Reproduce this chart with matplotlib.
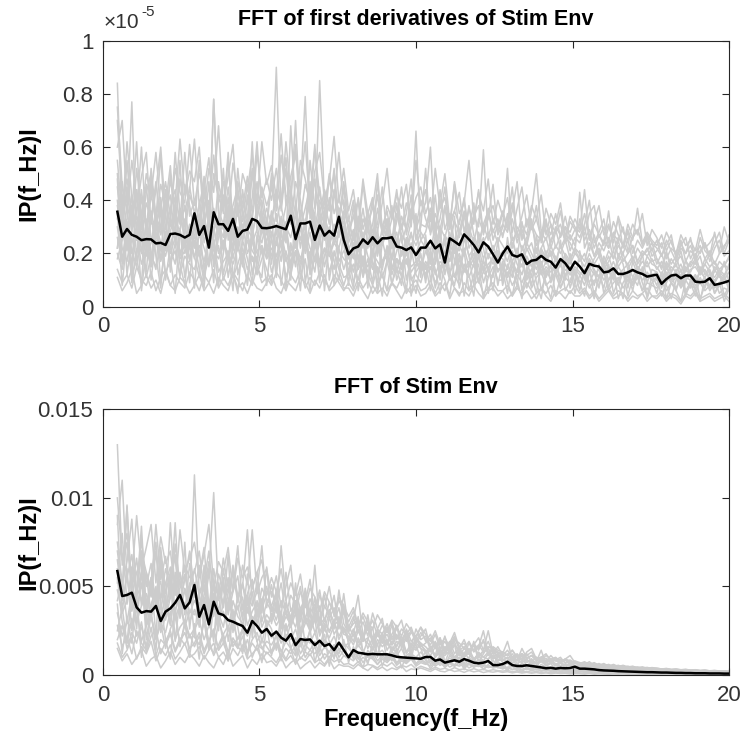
import numpy as np
import matplotlib
matplotlib.use('Agg')
import matplotlib.pyplot as plt
from matplotlib.ticker import FixedLocator

plt.rcParams['font.family'] = ['Liberation Sans', 'DejaVu Sans']

# ---------------- data ----------------
freq = np.linspace(0.46, 20.0, 128)   # frequency grid (Hz)

# mean of first-derivative spectra (units of 1e-5)
top_mean = [
    0.357, 0.263, 0.292, 0.27, 0.263, 0.25, 0.254, 0.253, 0.238, 0.24, 0.232, 0.273, 0.275, 0.27, 0.26, 0.27,
    0.351, 0.27, 0.303, 0.222, 0.355, 0.31, 0.31, 0.285, 0.33, 0.263, 0.285, 0.29, 0.33, 0.322,
    0.296, 0.295, 0.298, 0.303, 0.297, 0.291, 0.342, 0.254, 0.313, 0.313, 0.32, 0.251, 0.305, 0.267, 0.285, 0.267,
    0.338, 0.251, 0.197, 0.219, 0.226, 0.253, 0.236, 0.261, 0.238, 0.257, 0.257, 0.261, 0.226, 0.222, 0.213, 0.223, 0.194,
    0.222, 0.222, 0.248, 0.219, 0.234, 0.166, 0.257, 0.245, 0.232, 0.272, 0.253, 0.232, 0.204, 0.242, 0.226, 0.197,
    0.166, 0.2, 0.226, 0.194, 0.188, 0.197, 0.16, 0.173, 0.176, 0.191, 0.176, 0.169, 0.147, 0.179, 0.163, 0.138, 0.169,
    0.151, 0.126, 0.161, 0.154, 0.151, 0.129, 0.132, 0.144, 0.123, 0.123, 0.129, 0.138, 0.129, 0.123, 0.113, 0.117,
    0.12, 0.086, 0.104, 0.117, 0.12, 0.107, 0.117, 0.117, 0.094, 0.092, 0.094, 0.107, 0.082, 0.086, 0.091, 0.097,
]

# individual first-derivative spectra (units of 1e-7)
top_traces = [
    [84, 30, 45, 28, 52, 35, 22, 48, 30, 41, 25, 50, 33, 28, 46, 38,
     29, 55, 31, 40, 26, 47, 35, 58, 30, 42, 36, 27, 51, 33, 45, 38,
     44, 90, 36, 52, 31, 47, 40, 28, 55, 37, 45, 30, 49, 35, 41, 33,
     25, 38, 22, 33, 28, 41, 19, 30, 36, 24, 32, 45, 27, 35, 30, 40,
     33, 28, 42, 25, 37, 30, 46, 26, 34, 29, 39, 24, 31, 36, 28, 33,
     26, 35, 22, 30, 27, 24, 33, 20, 28, 25, 31, 22, 27, 30, 21, 26,
     24, 30, 21, 27, 19, 25, 22, 28, 18, 24, 20, 23, 17, 21, 19, 22,
     16, 20, 14, 18, 15, 21, 13, 17, 16, 19, 12, 15, 17, 14, 16, 18],
    [60, 70, 38, 31, 44, 26, 39, 33, 47, 29, 36, 42, 24, 37, 31, 45,
     35, 27, 43, 30, 78, 34, 29, 41, 25, 38, 32, 46, 28, 35, 40, 27,
     33, 41, 29, 38, 45, 26, 36, 30, 42, 33, 85, 39, 31, 44, 27, 36,
     30, 21, 34, 26, 29, 23, 37, 28, 31, 22, 35, 27, 24, 32, 66, 25,
     28, 35, 23, 30, 26, 33, 21, 29, 25, 38, 27, 22, 31, 25, 29, 24,
     30, 52, 25, 28, 21, 26, 31, 23, 27, 19, 25, 29, 22, 26, 24, 20,
     43, 22, 27, 19, 24, 21, 26, 18, 23, 20, 25, 17, 22, 19, 21, 24,
     18, 15, 21, 13, 17, 19, 14, 16, 20, 13, 18, 15, 17, 12, 16, 14],
    [45, 28, 33, 77, 25, 31, 22, 36, 27, 30, 21, 34, 26, 29, 38, 23,
     31, 26, 35, 24, 29, 33, 22, 30, 27, 36, 25, 31, 62, 28, 24, 33,
     27, 35, 23, 30, 26, 34, 29, 22, 31, 27, 36, 25, 30, 24, 28, 32,
     21, 27, 18, 24, 22, 29, 20, 25, 17, 23, 28, 19, 26, 22, 20, 25,
     22, 18, 26, 20, 24, 17, 23, 21, 27, 19, 22, 25, 18, 23, 20, 21,
     19, 23, 17, 21, 18, 24, 20, 16, 22, 18, 21, 17, 23, 19, 16, 20,
     18, 15, 20, 16, 19, 14, 17, 21, 15, 18, 16, 19, 14, 17, 15, 18,
     14, 17, 12, 15, 13, 16, 11, 14, 15, 12, 16, 13, 11, 14, 12, 15],
    [30, 18, 24, 20, 27, 16, 22, 19, 25, 17, 23, 20, 26, 18, 21, 24,
     19, 23, 17, 26, 21, 18, 24, 20, 16, 22, 19, 25, 17, 21, 23, 18,
     22, 19, 25, 17, 21, 24, 18, 23, 20, 26, 17, 22, 19, 24, 21, 18,
     16, 20, 14, 18, 15, 21, 13, 17, 19, 14, 18, 16, 20, 15, 17, 13,
     17, 14, 19, 15, 18, 13, 16, 20, 14, 17, 15, 19, 13, 16, 18, 14,
     15, 12, 17, 13, 16, 11, 14, 18, 12, 15, 13, 16, 11, 14, 12, 15,
     13, 11, 15, 12, 14, 10, 13, 11, 15, 12, 10, 14, 11, 13, 12, 10,
     11, 9, 13, 10, 12, 8, 11, 10, 12, 9, 11, 8, 10, 12, 9, 10],
    [14, 9, 12, 7, 15, 10, 8, 13, 6, 11, 14, 8, 12, 9, 7, 13,
     10, 6, 12, 9, 14, 7, 11, 8, 13, 10, 6, 12, 8, 15, 9, 11,
     8, 13, 10, 6, 12, 9, 14, 7, 11, 8, 13, 10, 7, 12, 9, 6,
     9, 6, 11, 7, 10, 5, 8, 12, 6, 9, 7, 11, 5, 8, 10, 6,
     7, 10, 5, 9, 6, 11, 7, 4, 9, 6, 8, 10, 5, 7, 9, 6,
     6, 8, 4, 7, 5, 9, 6, 3, 7, 5, 8, 4, 6, 7, 5, 8,
     5, 7, 4, 6, 3, 5, 7, 4, 6, 5, 3, 6, 4, 5, 7, 4,
     4, 6, 3, 5, 4, 2, 5, 4, 6, 3, 4, 5, 3, 4, 5, 3],
    [38, 26, 55, 30, 35, 60, 28, 42, 33, 57, 29, 37, 44, 31, 58, 34,
     40, 33, 49, 28, 78, 36, 31, 45, 27, 52, 34, 30, 41, 62, 35, 29,
     47, 32, 40, 56, 34, 29, 43, 79, 33, 48, 30, 41, 36, 52, 31, 45,
     27, 34, 40, 22, 36, 28, 31, 45, 26, 33, 39, 24, 30, 37, 29, 35,
     39, 60, 27, 33, 45, 29, 36, 31, 41, 26, 34, 38, 28, 33, 46, 27,
     31, 28, 36, 47, 25, 33, 29, 38, 24, 31, 27, 35, 26, 30, 28, 33,
     29, 44, 25, 31, 27, 23, 30, 26, 33, 22, 28, 25, 37, 24, 27, 21,
     25, 19, 23, 27, 18, 22, 20, 26, 17, 21, 24, 19, 28, 20, 23, 25],
    [22, 35, 28, 42, 19, 33, 46, 25, 30, 38, 24, 31, 27, 55, 22, 29,
     26, 39, 24, 33, 37, 28, 52, 25, 35, 21, 44, 29, 26, 38, 31, 24,
     36, 28, 33, 24, 68, 37, 25, 31, 39, 22, 34, 28, 41, 26, 37, 29,
     24, 29, 17, 26, 32, 20, 27, 23, 29, 18, 25, 31, 21, 27, 23, 28,
     25, 21, 30, 18, 27, 23, 20, 28, 35, 22, 26, 19, 24, 28, 21, 26,
     23, 20, 26, 18, 32, 21, 24, 17, 22, 26, 19, 23, 20, 25, 18, 22,
     20, 17, 24, 19, 22, 16, 21, 18, 25, 17, 20, 23, 16, 19, 22, 17,
     18, 14, 20, 16, 19, 13, 17, 15, 18, 14, 16, 20, 13, 17, 15, 19],
    [20, 14, 25, 12, 18, 22, 11, 19, 15, 23, 13, 17, 21, 12, 19, 16,
     14, 21, 12, 18, 25, 13, 17, 20, 11, 16, 22, 14, 19, 12, 18, 24,
     13, 19, 24, 11, 17, 21, 14, 26, 12, 18, 15, 22, 13, 20, 16, 11,
     12, 16, 10, 19, 13, 8, 15, 11, 17, 9, 14, 12, 18, 10, 13, 16,
     11, 15, 9, 13, 17, 10, 12, 8, 14, 11, 16, 9, 13, 11, 15, 10,
     10, 13, 8, 12, 9, 14, 7, 11, 13, 8, 10, 12, 7, 11, 9, 13,
     9, 12, 7, 10, 8, 13, 6, 9, 11, 7, 10, 8, 12, 6, 9, 8,
     7, 10, 6, 9, 7, 11, 5, 8, 7, 9, 6, 8, 10, 5, 7, 6],
    [70, 40, 48, 35, 62, 29, 43, 50, 32, 46, 38, 53, 30, 48, 36, 44,
     63, 38, 47, 33, 50, 41, 36, 55, 29, 47, 39, 33, 52, 37, 44, 31,
     50, 36, 57, 42, 38, 70, 33, 46, 40, 61, 35, 44, 38, 50, 32, 47,
     33, 25, 41, 29, 36, 24, 47, 30, 27, 38, 23, 34, 29, 42, 25, 31,
     30, 37, 26, 44, 29, 35, 24, 32, 40, 27, 34, 30, 59, 26, 33, 28,
     35, 29, 33, 24, 31, 27, 36, 50, 28, 32, 24, 30, 27, 34, 25, 29,
     26, 31, 40, 24, 28, 33, 22, 27, 25, 30, 21, 26, 29, 23, 27, 24,
     22, 19, 25, 21, 17, 24, 20, 23, 18, 26, 21, 19, 24, 28, 20, 25],
    [26, 17, 32, 21, 15, 28, 19, 24, 35, 18, 26, 22, 16, 29, 20, 25,
     18, 28, 22, 16, 30, 20, 25, 17, 29, 23, 15, 27, 21, 18, 32, 22,
     25, 17, 21, 30, 19, 24, 16, 28, 22, 18, 26, 15, 23, 29, 17, 21,
     19, 13, 22, 16, 11, 20, 17, 14, 23, 12, 18, 15, 21, 13, 16, 19,
     14, 20, 12, 17, 15, 22, 11, 18, 13, 16, 20, 12, 17, 14, 19, 13,
     16, 11, 15, 13, 19, 10, 14, 12, 17, 11, 15, 13, 9, 16, 12, 14,
     12, 14, 9, 13, 11, 15, 10, 12, 8, 13, 11, 9, 14, 10, 12, 11,
     10, 8, 12, 9, 11, 7, 10, 12, 8, 10, 9, 11, 7, 9, 11, 8],
    [55, 33, 62, 41, 36, 49, 58, 31, 44, 60, 35, 47, 39, 63, 42, 51,
     47, 60, 36, 52, 43, 68, 38, 49, 61, 34, 50, 44, 57, 39, 62, 46,
     53, 41, 65, 38, 49, 57, 44, 62, 36, 51, 58, 40, 47, 64, 39, 52,
     36, 44, 30, 48, 35, 41, 28, 39, 52, 33, 42, 37, 46, 30, 55, 38,
     44, 32, 52, 37, 41, 30, 47, 35, 39, 55, 33, 43, 36, 48, 31, 40,
     34, 41, 28, 37, 45, 30, 38, 33, 42, 27, 35, 31, 39, 26, 34, 30,
     28, 35, 26, 32, 38, 27, 31, 24, 34, 28, 25, 31, 27, 35, 23, 29,
     26, 22, 28, 24, 20, 27, 23, 25, 21, 29, 22, 24, 27, 21, 30, 24],
    [40, 22, 17, 29, 34, 21, 26, 15, 31, 24, 19, 28, 37, 20, 25, 18,
     27, 19, 33, 24, 17, 29, 21, 35, 18, 27, 31, 20, 25, 16, 29, 23,
     19, 31, 22, 27, 16, 25, 33, 20, 28, 17, 24, 32, 19, 26, 22, 30,
     18, 22, 15, 26, 19, 14, 23, 17, 20, 27, 13, 21, 16, 24, 18, 14,
     21, 16, 24, 13, 19, 17, 25, 14, 22, 15, 18, 23, 14, 20, 16, 19,
     18, 14, 21, 16, 12, 19, 15, 22, 13, 17, 20, 12, 16, 19, 14, 17,
     15, 12, 18, 14, 11, 16, 13, 17, 12, 14, 16, 11, 15, 13, 17, 12,
     13, 10, 15, 11, 13, 9, 14, 12, 10, 13, 11, 14, 9, 12, 10, 13],
    [11, 6, 9, 14, 5, 8, 12, 7, 10, 5, 13, 8, 6, 11, 9, 5,
     8, 12, 6, 9, 5, 11, 8, 6, 12, 7, 9, 5, 10, 7, 6, 9,
     12, 7, 5, 10, 8, 6, 11, 9, 5, 10, 7, 12, 6, 8, 11, 7,
     7, 4, 9, 6, 3, 8, 5, 7, 4, 9, 6, 3, 7, 5, 8, 4,
     5, 8, 4, 6, 9, 3, 7, 5, 6, 4, 8, 5, 3, 6, 7, 4,
     6, 3, 5, 8, 4, 6, 3, 5, 7, 4, 2, 6, 5, 3, 6, 4,
     4, 6, 3, 5, 2, 4, 6, 3, 4, 5, 2, 4, 3, 5, 2, 4,
     3, 5, 2, 4, 3, 1, 4, 3, 5, 2, 3, 4, 2, 3, 4, 2],
    [33, 47, 26, 38, 30, 44, 27, 52, 34, 29, 40, 31, 58, 35, 27, 42,
     36, 30, 44, 56, 33, 27, 42, 31, 38, 45, 28, 40, 33, 47, 30, 37,
     31, 44, 38, 28, 42, 61, 30, 37, 45, 29, 40, 34, 27, 43, 36, 40,
     29, 34, 26, 37, 24, 31, 42, 27, 33, 25, 38, 29, 35, 48, 26, 30,
     52, 27, 35, 29, 38, 25, 32, 28, 36, 30, 24, 33, 28, 37, 25, 31,
     27, 32, 45, 26, 29, 23, 31, 27, 25, 33, 22, 28, 31, 24, 27, 23,
     33, 25, 29, 22, 27, 24, 36, 21, 26, 23, 29, 20, 25, 22, 26, 19,
     21, 24, 18, 22, 20, 25, 17, 21, 19, 23, 18, 21, 16, 20, 22, 27],
    [50, 28, 21, 36, 25, 41, 30, 18, 33, 27, 44, 22, 30, 36, 24, 31,
     22, 34, 27, 47, 23, 31, 26, 38, 21, 30, 25, 42, 24, 29, 35, 21,
     28, 23, 34, 26, 39, 22, 30, 25, 47, 23, 29, 36, 24, 31, 26, 35,
     22, 18, 27, 15, 24, 21, 29, 16, 22, 19, 25, 14, 23, 28, 17, 21,
     24, 19, 16, 25, 20, 28, 17, 23, 19, 30, 16, 21, 26, 18, 23, 17,
     21, 17, 24, 19, 15, 22, 18, 14, 21, 16, 23, 18, 15, 20, 17, 22,
     17, 20, 14, 18, 21, 15, 19, 13, 17, 20, 14, 18, 15, 13, 19, 16,
     15, 12, 17, 13, 16, 11, 15, 13, 17, 12, 14, 10, 15, 13, 11, 16],
    [75, 45, 36, 55, 40, 33, 50, 42, 58, 37, 47, 34, 52, 43, 39, 61,
     38, 50, 43, 36, 57, 40, 47, 33, 54, 42, 37, 49, 35, 58, 41, 48,
     40, 52, 37, 62, 43, 35, 55, 48, 38, 59, 42, 36, 50, 41, 58, 37,
     32, 40, 28, 46, 31, 37, 50, 27, 38, 33, 44, 29, 39, 34, 41, 45,
     35, 41, 30, 38, 50, 32, 36, 43, 28, 37, 31, 44, 27, 34, 38, 30,
     36, 30, 39, 27, 34, 42, 29, 33, 26, 37, 31, 28, 36, 25, 32, 29,
     31, 27, 35, 38, 26, 30, 24, 32, 27, 23, 31, 26, 29, 24, 28, 25,
     23, 27, 21, 25, 19, 23, 26, 18, 22, 20, 24, 17, 22, 25, 19, 21],
    [35, 8, 27, 12, 31, 6, 22, 15, 33, 9, 25, 18, 5, 29, 11, 24,
     7, 30, 14, 26, 9, 34, 12, 21, 6, 28, 16, 10, 32, 13, 23, 8,
     27, 11, 31, 7, 24, 15, 36, 9, 20, 13, 29, 6, 25, 17, 10, 30,
     12, 24, 6, 19, 10, 27, 5, 16, 22, 8, 18, 11, 25, 4, 15, 20,
     9, 21, 14, 5, 18, 11, 24, 7, 16, 12, 4, 20, 9, 15, 6, 19,
     14, 5, 17, 10, 3, 15, 8, 19, 6, 12, 16, 4, 11, 18, 7, 13,
     6, 14, 9, 3, 12, 7, 16, 5, 10, 13, 4, 11, 8, 15, 3, 9,
     11, 4, 9, 13, 6, 2, 10, 7, 12, 3, 8, 11, 5, 9, 2, 7],
    [22, 40, 12, 26, 18, 9, 33, 20, 14, 38, 10, 23, 30, 16, 8, 27,
     19, 11, 36, 15, 24, 8, 20, 31, 13, 5, 25, 18, 9, 27, 20, 14,
     9, 26, 17, 32, 12, 21, 6, 28, 15, 34, 10, 19, 27, 8, 22, 14,
     20, 9, 15, 28, 7, 21, 13, 4, 18, 25, 10, 16, 6, 22, 12, 9,
     16, 6, 22, 10, 27, 13, 8, 19, 4, 15, 23, 9, 18, 5, 13, 21,
     8, 16, 11, 22, 6, 13, 18, 9, 3, 14, 10, 19, 7, 12, 15, 5,
     12, 8, 15, 4, 11, 17, 7, 13, 9, 3, 14, 8, 11, 6, 13, 10,
     5, 12, 8, 3, 10, 14, 6, 9, 4, 11, 7, 13, 5, 8, 12, 6],
    [48, 16, 30, 9, 21, 26, 13, 35, 19, 7, 28, 15, 24, 11, 33, 17,
     25, 14, 7, 29, 18, 23, 10, 16, 37, 12, 20, 8, 26, 15, 11, 31,
     16, 30, 8, 21, 14, 27, 11, 18, 6, 24, 16, 31, 10, 21, 14, 8,
     14, 7, 24, 11, 18, 9, 26, 12, 6, 19, 14, 8, 23, 11, 5, 17,
     12, 18, 7, 15, 10, 4, 17, 13, 21, 6, 12, 16, 3, 11, 20, 8,
     17, 9, 4, 14, 19, 7, 12, 5, 16, 9, 3, 13, 18, 6, 10, 14,
     9, 4, 13, 8, 16, 5, 10, 14, 3, 9, 12, 6, 15, 9, 4, 12,
     8, 13, 3, 9, 6, 12, 4, 10, 7, 2, 11, 6, 9, 13, 4, 8],
    [18, 25, 38, 14, 44, 20, 31, 10, 27, 21, 36, 13, 40, 19, 26, 9,
     31, 20, 9, 37, 15, 26, 32, 11, 22, 39, 17, 30, 12, 24, 36, 18,
     34, 14, 28, 19, 10, 38, 22, 33, 13, 27, 9, 35, 20, 14, 30, 24,
     8, 28, 19, 12, 31, 16, 9, 24, 33, 14, 21, 27, 10, 18, 35, 11,
     27, 10, 17, 30, 12, 21, 34, 10, 26, 19, 8, 28, 22, 13, 11, 25,
     10, 26, 13, 8, 23, 17, 11, 27, 15, 21, 9, 14, 25, 10, 20, 8,
     21, 10, 18, 13, 7, 19, 14, 10, 20, 16, 7, 17, 12, 20, 9, 14,
     13, 7, 16, 10, 14, 8, 18, 11, 6, 15, 10, 7, 14, 11, 17, 9],
]

# mean of envelope spectra
bottom_mean = [
    0.00587, 0.00446, 0.00452, 0.00465, 0.00382, 0.00352, 0.00361, 0.00358, 0.0039, 0.00305, 0.00358, 0.00376,
    0.00408, 0.00452, 0.00376, 0.0041, 0.00508, 0.00329, 0.00395, 0.00286, 0.00414, 0.00348, 0.00339, 0.0031,
    0.00301, 0.00288, 0.00277, 0.00239, 0.00305, 0.00277, 0.00239, 0.0026, 0.00222, 0.00245, 0.00211, 0.00194,
    0.00231, 0.00169, 0.00203, 0.00198, 0.00201,
    0.00169, 0.00194, 0.00164, 0.00175, 0.00141, 0.00183, 0.00141, 0.001, 0.00141, 0.00126, 0.00122, 0.00117,
    0.00119, 0.00117, 0.00117, 0.00117, 0.00111, 0.00103, 0.001, 0.00098, 0.00096, 0.00094, 0.00092, 0.00102,
    0.00102, 0.00081, 0.00088, 0.0007, 0.00077, 0.00083, 0.00075, 0.0009, 0.00081, 0.0007, 0.00066, 0.0007,
    0.00079, 0.00056, 0.00056, 0.00062, 0.00075, 0.00056, 0.00051,
    0.00051, 0.00055, 0.00051, 0.00047, 0.00043, 0.00038, 0.00041, 0.00036, 0.0004, 0.00038, 0.0004, 0.00047,
    0.00036, 0.00036, 0.00034, 0.00032, 0.00028, 0.00026, 0.00025, 0.00024, 0.00022, 0.00021, 0.0002, 0.00019,
    0.00018, 0.00017, 0.00016, 0.00016, 0.00015, 0.00014, 0.00014, 0.00013, 0.00012, 0.00012, 0.00011, 0.00011,
    0.0001, 0.0001, 0.0001, 0.00009, 0.00009, 0.00009, 0.00008, 0.00008,
]

# individual envelope spectra (units of 1e-4)
bottom_traces = [
    [130, 62, 75, 48, 66, 39, 58, 44, 70, 37, 52, 61, 35, 49, 57, 40,
     113, 46, 55, 38, 60, 42, 51, 34, 47, 56, 33, 44, 39, 52, 30, 41,
     36, 45, 29, 40, 33, 27, 38, 31, 25, 35, 28, 32, 24, 30, 22, 27,
     20, 26, 18, 23, 15, 21, 17, 24, 14, 19, 16, 22, 13, 18, 15, 17,
     14, 11, 16, 10, 13, 12, 9, 14, 11, 12, 8, 13, 10, 9, 11, 8,
     9, 7.5, 10, 6.5, 8, 7, 9, 6, 7.5, 5.5, 7, 6.5, 5, 6, 5.5, 4.8,
     5, 4.2, 5.5, 3.8, 4.5, 3.5, 4.2, 3.2, 3.8, 3, 3.5, 2.8, 3.2, 2.6, 3, 2.5,
     2.8, 2.2, 2.6, 2, 2.4, 1.8, 2.2, 1.7, 2, 1.6, 1.8, 1.5, 1.7, 1.4, 1.5, 1.3],
    [85, 110, 55, 68, 42, 77, 50, 63, 38, 72, 46, 58, 66, 41, 54, 70,
     48, 62, 39, 57, 103, 45, 53, 36, 60, 43, 50, 82, 40, 47, 73, 38,
     51, 35, 73, 42, 30, 48, 37, 44, 33, 62, 28, 39, 34, 45, 26, 36,
     24, 31, 45, 22, 28, 19, 26, 32, 17, 23, 28, 15, 21, 25, 18, 22,
     26, 15, 19, 13, 22, 12, 17, 14, 11, 18, 13, 16, 25, 12, 14, 10,
     12, 19, 9, 11, 8, 13, 15, 9, 10, 7.5, 11, 8, 9, 7, 8.5, 6.5,
     7, 5.5, 6.5, 5, 6, 4.5, 5.5, 4.2, 5, 3.8, 4.5, 3.5, 4, 3.2, 3.7, 3,
     3.2, 2.6, 3, 2.4, 2.8, 2.2, 2.5, 2, 2.3, 1.9, 2.1, 1.7, 1.9, 1.6, 1.8, 1.5],
    [60, 45, 96, 38, 50, 42, 57, 34, 46, 53, 31, 44, 86, 39, 48, 35,
     42, 37, 51, 33, 46, 29, 40, 49, 31, 38, 44, 28, 36, 41, 27, 34,
     30, 38, 26, 33, 29, 41, 24, 31, 27, 35, 22, 29, 25, 31, 20, 26,
     19, 23, 16, 21, 18, 14, 20, 16, 19, 13, 17, 20, 12, 16, 14, 18,
     12, 15, 10, 13, 11, 14, 9, 12, 10, 13, 9, 11, 8, 12, 10, 9,
     8, 10, 6.5, 8.5, 7, 9, 6, 7.5, 14, 6, 7, 5.5, 6.5, 5, 6, 4.5,
     4.5, 5.5, 4, 5, 3.8, 4.5, 3.5, 4, 3.2, 3.8, 3, 3.4, 2.8, 3.2, 2.6, 2.9,
     2.5, 2.8, 2.2, 2.5, 2, 2.3, 1.8, 2.1, 1.7, 1.9, 1.5, 1.8, 1.4, 1.6, 1.3, 1.4],
    [20, 28, 15, 24, 18, 30, 13, 22, 26, 12, 19, 25, 14, 21, 17, 23,
     16, 22, 12, 19, 25, 14, 18, 11, 21, 16, 13, 20, 10, 17, 15, 12,
     14, 18, 10, 15, 12, 17, 9, 13, 11, 16, 8, 12, 10, 14, 7, 11,
     9, 12, 7, 10, 8, 11, 6, 9, 7, 10, 5.5, 8, 6.5, 9, 5, 7,
     6, 8, 5, 7, 4.5, 6.5, 5, 7, 4, 6, 4.5, 5.5, 3.5, 5, 4, 4.5,
     3.5, 4.5, 3, 4, 2.8, 3.6, 2.5, 3.3, 2.4, 3, 2.2, 2.8, 2, 2.5, 1.8, 2.3,
     1.8, 2.2, 1.5, 2, 1.4, 1.8, 1.3, 1.6, 1.2, 1.5, 1.1, 1.4, 1, 1.3, 0.9, 1.1,
     0.9, 1.1, 0.8, 1, 0.7, 0.9, 0.6, 0.8, 0.6, 0.7, 0.5, 0.7, 0.5, 0.6, 0.4, 0.5],
    [15, 8, 12, 6, 10, 14, 5, 9, 11, 4, 8, 13, 6, 10, 7, 12,
     9, 5, 11, 7, 4, 10, 6, 13, 5, 8, 11, 4, 9, 6, 12, 7,
     8, 5, 10, 4, 7, 9, 3.5, 6, 8, 4, 7, 5, 9, 3.5, 6, 5,
     5, 3.5, 6, 4, 2.5, 5, 3, 4.5, 2.5, 4, 3, 5, 2, 3.5, 3, 4,
     3, 2, 3.5, 2.2, 1.8, 3, 2, 2.5, 1.5, 2.6, 1.8, 2.3, 1.4, 2, 1.6, 2.1,
     1.5, 1.9, 1.2, 1.7, 1.1, 1.5, 1, 1.4, 0.9, 1.2, 0.8, 1.1, 0.9, 1, 0.7, 0.9,
     0.8, 0.6, 0.9, 0.5, 0.7, 0.6, 0.4, 0.6, 0.5, 0.7, 0.4, 0.5, 0.3, 0.5, 0.4, 0.3,
     0.4, 0.3, 0.5, 0.3, 0.4, 0.2, 0.3, 0.4, 0.2, 0.3, 0.2, 0.3, 0.2, 0.2, 0.3, 0.2],
    [75, 52, 64, 88, 45, 70, 58, 49, 85, 54, 67, 43, 74, 50, 62, 55,
     58, 70, 47, 64, 52, 44, 66, 49, 58, 41, 62, 51, 82, 46, 55, 60,
     44, 56, 38, 50, 62, 35, 47, 41, 54, 32, 45, 38, 50, 33, 42, 37,
     30, 36, 27, 33, 25, 31, 22, 28, 24, 30, 20, 26, 23, 27, 19, 24,
     20, 17, 23, 15, 19, 14, 21, 16, 18, 13, 17, 15, 19, 12, 16, 14,
     13, 11, 14, 10, 12, 9, 11, 10, 8.5, 11, 9, 10, 7.5, 9, 8, 7,
     6.5, 7.5, 6, 7, 5.5, 6.5, 5, 6, 4.8, 5.5, 4.5, 5, 4, 4.6, 3.8, 4.2,
     3.8, 3.4, 3.6, 3.1, 3.3, 2.9, 3.1, 2.7, 2.9, 2.5, 2.7, 2.3, 2.5, 2.2, 2.3, 2],
    [48, 35, 42, 57, 30, 39, 46, 33, 41, 28, 37, 50, 32, 40, 27, 36,
     34, 41, 28, 37, 45, 31, 36, 25, 42, 33, 29, 38, 27, 33, 40, 26,
     35, 28, 33, 25, 31, 37, 22, 29, 34, 24, 30, 26, 21, 28, 31, 23,
     22, 17, 25, 19, 21, 15, 23, 18, 20, 14, 19, 17, 22, 13, 18, 15,
     13, 16, 11, 14, 12, 16, 10, 13, 11, 15, 9, 12, 10, 13, 9, 11,
     9, 7, 10, 8, 11, 7.5, 9, 6.5, 8, 7, 8.5, 6, 7, 5.5, 6.5, 5.5,
     5, 4, 5.5, 4.3, 4.8, 3.8, 4.5, 3.6, 4, 3.3, 3.8, 3.1, 3.5, 2.8, 3.2, 2.7,
     2.6, 2.3, 2.5, 2.1, 2.3, 1.9, 2.2, 1.8, 2, 1.7, 1.8, 1.5, 1.7, 1.4, 1.5, 1.3],
    [35, 22, 30, 26, 38, 19, 28, 33, 21, 29, 24, 36, 20, 27, 31, 22,
     26, 31, 20, 28, 23, 34, 18, 25, 29, 20, 26, 22, 30, 19, 24, 27,
     21, 25, 18, 23, 20, 26, 16, 21, 18, 24, 15, 20, 17, 22, 14, 18,
     15, 12, 17, 13, 11, 15, 12, 14, 10, 13, 11, 15, 9, 12, 10, 13,
     9, 11, 8, 10, 7.5, 9.5, 8, 10, 7, 9, 6.5, 8.5, 7, 8, 6, 7.5,
     5.5, 6.5, 5, 6, 4.5, 5.5, 4.2, 5.2, 4, 4.8, 3.8, 4.5, 3.5, 4.2, 3.2, 4,
     3, 3.4, 2.7, 3.1, 2.5, 2.9, 2.3, 2.7, 2.1, 2.5, 2, 2.3, 1.9, 2.2, 1.7, 2,
     1.6, 1.9, 1.5, 1.7, 1.4, 1.6, 1.3, 1.5, 1.2, 1.4, 1.1, 1.3, 1, 1.2, 1, 1.1],
    [52, 80, 40, 61, 47, 84, 36, 55, 43, 67, 39, 86, 45, 58, 34, 63,
     44, 56, 72, 39, 50, 35, 60, 42, 48, 73, 37, 46, 54, 33, 49, 43,
     39, 47, 33, 58, 36, 42, 30, 49, 35, 40, 28, 45, 32, 38, 27, 46,
     25, 29, 31, 21, 27, 18, 25, 20, 23, 17, 28, 19, 24, 16, 26, 20,
     22, 14, 18, 12, 16, 13, 19, 11, 15, 12, 17, 10, 14, 25, 12, 13,
     11, 9, 12, 8, 15, 9.5, 11, 8, 10, 7.5, 9, 8, 7, 8.5, 6.5, 7.5,
     6, 5, 6.5, 4.8, 5.5, 4.5, 5.2, 4.2, 4.8, 4, 4.4, 3.7, 4.1, 3.4, 3.8, 3.2,
     3.3, 2.8, 3.1, 2.6, 2.9, 2.4, 2.7, 2.2, 2.5, 2.1, 2.3, 1.9, 2.1, 1.8, 2, 1.7],
    [25, 38, 18, 32, 22, 27, 16, 34, 20, 29, 15, 26, 33, 18, 28, 21,
     22, 17, 30, 19, 26, 14, 23, 28, 16, 21, 25, 13, 20, 24, 15, 19,
     17, 22, 13, 19, 15, 21, 12, 17, 14, 19, 11, 16, 13, 17, 10, 14,
     11, 14, 9, 12, 10, 13, 8, 11, 9, 12, 7, 10, 8, 11, 6.5, 9,
     7, 9, 6, 8, 5.5, 7.5, 5, 7, 5.5, 6.5, 4.5, 6, 5, 5.5, 4.2, 5,
     4.5, 3.8, 4.8, 3.5, 4.2, 3.2, 3.9, 3, 3.6, 2.8, 3.3, 2.6, 3, 2.4, 2.8, 2.2,
     2.4, 2, 2.3, 1.8, 2.1, 1.7, 1.9, 1.5, 1.8, 1.4, 1.6, 1.3, 1.5, 1.2, 1.4, 1.1,
     1.2, 1, 1.1, 0.9, 1, 0.8, 0.9, 0.7, 0.8, 0.7, 0.8, 0.6, 0.7, 0.6, 0.6, 0.5],
    [100, 65, 80, 55, 90, 60, 72, 85, 52, 78, 63, 70, 48, 82, 58, 66,
     75, 55, 68, 85, 50, 64, 58, 72, 47, 66, 55, 61, 49, 58, 65, 45,
     55, 47, 60, 42, 52, 45, 57, 38, 49, 44, 36, 47, 41, 35, 44, 39,
     33, 38, 28, 35, 30, 26, 34, 29, 24, 31, 27, 22, 29, 25, 21, 27,
     23, 19, 25, 17, 21, 16, 20, 18, 15, 19, 14, 17, 13, 16, 15, 12,
     13, 11, 14, 10, 12, 9.5, 11, 8.5, 10, 9, 8, 9.5, 7.5, 8.5, 7, 8,
     7, 6, 7.5, 5.5, 6.5, 5.2, 6, 4.8, 5.5, 4.5, 5, 4.2, 4.6, 4, 4.3, 3.7,
     3.9, 3.4, 3.7, 3.2, 3.4, 3, 3.2, 2.8, 3, 2.6, 2.8, 2.4, 2.6, 2.3, 2.4, 2.1],
    [65, 42, 55, 36, 47, 58, 33, 51, 40, 62, 37, 45, 54, 32, 49, 43,
     52, 36, 45, 60, 33, 48, 41, 55, 30, 44, 51, 35, 47, 29, 42, 50,
     38, 31, 42, 35, 27, 39, 33, 46, 28, 37, 32, 25, 36, 30, 38, 24,
     28, 22, 26, 19, 30, 21, 25, 18, 27, 20, 23, 17, 26, 19, 22, 16,
     18, 21, 15, 19, 13, 17, 22, 14, 16, 12, 18, 14, 20, 11, 15, 13,
     10, 12, 8.5, 11, 9, 12, 7.5, 10, 8, 9.5, 7, 8.5, 10, 6.5, 8, 7,
     5.8, 6.5, 5, 6, 4.6, 5.5, 4.3, 5, 4, 4.7, 3.8, 4.3, 3.5, 4, 3.3, 3.7,
     3, 3.3, 2.8, 3, 2.5, 2.8, 2.3, 2.6, 2.2, 2.4, 2, 2.2, 1.9, 2.1, 1.8, 1.9],
    [28, 16, 22, 12, 25, 18, 14, 27, 11, 20, 17, 23, 13, 19, 24, 15,
     18, 24, 14, 20, 11, 17, 23, 13, 19, 15, 22, 12, 18, 14, 20, 16,
     12, 17, 14, 9, 15, 11, 18, 10, 14, 12, 16, 9, 13, 10, 15, 11,
     10, 8, 12, 7, 11, 9, 6, 10, 8, 11, 6.5, 9, 7, 10, 6, 8,
     6.5, 5, 7.5, 5.5, 7, 4.5, 6, 5, 6.5, 4, 5.5, 4.8, 6, 4.2, 5, 4.5,
     3.6, 4.2, 3.2, 3.8, 2.9, 3.5, 2.7, 3.2, 2.5, 3, 2.3, 2.8, 2.2, 2.6, 2, 2.4,
     1.9, 2.2, 1.7, 2, 1.5, 1.8, 1.4, 1.7, 1.3, 1.5, 1.2, 1.4, 1.1, 1.3, 1, 1.2,
     1, 1.1, 0.9, 1, 0.8, 0.9, 0.7, 0.8, 0.7, 0.8, 0.6, 0.7, 0.6, 0.6, 0.5, 0.6],
    [70, 48, 95, 44, 58, 66, 40, 53, 75, 42, 60, 50, 68, 38, 56, 47,
     60, 45, 53, 70, 41, 57, 48, 38, 62, 44, 52, 40, 49, 58, 37, 46,
     47, 39, 52, 34, 45, 40, 50, 31, 43, 37, 48, 30, 41, 35, 29, 38,
     27, 33, 24, 30, 22, 35, 26, 23, 29, 21, 26, 31, 19, 24, 22, 27,
     19, 23, 16, 21, 14, 18, 24, 15, 20, 13, 17, 21, 14, 19, 12, 16,
     11, 14, 10, 12, 9, 11, 13, 8.5, 10, 12, 8, 9.5, 7.5, 9, 11, 7,
     6.2, 7, 5.5, 6.5, 5, 6, 4.7, 5.5, 4.4, 5, 4.1, 4.7, 3.8, 4.3, 3.6, 4,
     3.5, 3.1, 3.4, 2.9, 3.2, 2.7, 3, 2.6, 2.8, 2.4, 2.6, 2.2, 2.4, 2.1, 2.2, 1.9],
    [18, 10, 14, 21, 9, 16, 12, 19, 8, 15, 11, 17, 9, 13, 18, 10,
     12, 16, 9, 14, 18, 10, 13, 8, 15, 11, 17, 9, 12, 15, 8, 13,
     10, 7, 12, 8, 11, 6.5, 10, 8, 12, 7, 9, 6, 10, 7.5, 9, 6,
     6.5, 5, 7.5, 4.5, 6, 5.5, 4, 6.5, 5, 7, 4, 5.5, 4.5, 6, 3.5, 5,
     4, 3, 4.5, 3.2, 3.8, 2.8, 4.2, 3, 3.5, 2.6, 3.6, 2.7, 3.2, 2.4, 3, 2.5,
     2.2, 2.6, 1.9, 2.3, 1.7, 2.1, 1.6, 2, 1.5, 1.8, 1.4, 1.7, 1.3, 1.6, 1.2, 1.4,
     1.2, 1, 1.3, 0.9, 1.1, 0.8, 1, 0.8, 0.9, 0.7, 0.9, 0.6, 0.8, 0.6, 0.7, 0.5,
     0.6, 0.7, 0.5, 0.6, 0.4, 0.5, 0.5, 0.4, 0.5, 0.3, 0.4, 0.4, 0.3, 0.4, 0.3, 0.3],
    [42, 55, 30, 46, 36, 52, 28, 40, 48, 33, 44, 29, 50, 35, 41, 30,
     37, 28, 44, 32, 51, 35, 27, 42, 33, 39, 26, 45, 31, 36, 43, 28,
     32, 40, 27, 36, 29, 52, 25, 33, 28, 44, 24, 31, 37, 26, 48, 29,
     24, 19, 28, 21, 34, 18, 24, 20, 27, 17, 22, 19, 25, 15, 21, 18,
     16, 13, 18, 11, 15, 19, 12, 16, 10, 14, 17, 11, 13, 15, 10, 12,
     8.5, 10, 7, 9, 11, 7.5, 8.5, 6.5, 9.5, 7, 8, 6, 7.5, 9, 6, 7,
     5, 5.8, 4.4, 5.2, 4, 4.8, 3.7, 4.4, 3.5, 4.1, 3.2, 3.8, 3, 3.5, 2.8, 3.2,
     2.7, 2.4, 2.6, 2.2, 2.4, 2, 2.2, 1.9, 2.1, 1.8, 1.9, 1.6, 1.8, 1.5, 1.6, 1.4],
    [40, 12, 33, 18, 45, 10, 28, 36, 14, 42, 20, 9, 38, 16, 30, 11,
     29, 9, 35, 17, 12, 31, 22, 8, 37, 15, 26, 10, 33, 19, 7, 28,
     11, 24, 8, 29, 15, 6, 21, 13, 26, 7, 18, 23, 5, 17, 12, 20,
     7, 16, 10, 4, 14, 9, 18, 5, 12, 8, 15, 4, 11, 13, 6, 10,
     9, 3.5, 7, 11, 4, 8, 5.5, 10, 3, 7.5, 5, 9, 3, 6, 8.5, 4,
     5, 2.5, 6, 3.5, 1.8, 4.5, 3, 5.5, 2, 4, 2.8, 1.6, 4.2, 2.4, 3.6, 1.8,
     2.8, 1.2, 2.5, 1.8, 0.9, 2.2, 1.4, 2.6, 1, 1.9, 1.5, 0.8, 2, 1.2, 1.6, 0.9,
     1.4, 0.7, 1.2, 0.9, 0.5, 1.1, 0.8, 1.3, 0.5, 0.9, 0.7, 0.4, 1, 0.6, 0.8, 0.5],
    [55, 30, 18, 47, 26, 60, 20, 38, 50, 24, 33, 57, 19, 44, 28, 52,
     21, 46, 30, 14, 40, 25, 55, 19, 34, 27, 12, 43, 24, 37, 18, 31,
     26, 14, 35, 20, 29, 11, 38, 17, 25, 32, 13, 28, 19, 9, 33, 16,
     18, 9, 21, 14, 6, 19, 11, 23, 8, 16, 12, 20, 7, 14, 17, 9,
     13, 6, 10, 15, 5, 11, 8, 14, 4.5, 10, 7, 12, 5, 9, 13, 6,
     4, 8, 5.5, 2.5, 7, 4, 9, 3, 6, 4.5, 2.2, 6.5, 3.5, 5, 2.5, 4.5,
     3.5, 1.8, 3, 2.2, 1.2, 3.2, 2, 1.4, 2.8, 1.6, 2.4, 1.1, 2.6, 1.5, 2, 1.2,
     1.6, 1.1, 1.9, 0.8, 1.4, 1, 1.7, 0.7, 1.3, 0.9, 1.5, 0.6, 1.2, 0.8, 1.1, 0.7],
    [90, 35, 60, 25, 48, 70, 30, 55, 22, 64, 40, 28, 58, 33, 75, 26,
     50, 27, 62, 34, 19, 52, 38, 68, 24, 45, 31, 57, 21, 42, 35, 61,
     29, 48, 20, 41, 27, 35, 17, 44, 24, 31, 39, 15, 33, 23, 28, 40,
     16, 24, 33, 12, 20, 27, 10, 22, 17, 29, 13, 19, 25, 9, 21, 15,
     8, 16, 11, 21, 7, 14, 17, 6, 13, 9, 19, 7, 12, 16, 5, 11,
     7, 3, 9, 5, 12, 4, 7.5, 3.5, 10, 5, 6.5, 3, 8, 4.5, 7, 3,
     4, 2.2, 4.8, 3, 1.6, 4.2, 2.6, 3.6, 1.5, 3.2, 2.2, 3.8, 1.4, 2.8, 2, 3,
     1.8, 2.3, 1.2, 2, 1.5, 0.9, 1.9, 1.2, 1.6, 0.8, 1.4, 1.7, 0.9, 1.3, 1.1, 0.7],
]

x_ticks = [0, 5, 10, 15, 20]
top_yticks = [0, 0.2e-5, 0.4e-5, 0.6e-5, 0.8e-5, 1e-5]
top_yticklabels = ['0', '0.2', '0.4', '0.6', '0.8', '1']
bottom_yticks = [0, 0.005, 0.01, 0.015]
bottom_yticklabels = ['0', '0.005', '0.01', '0.015']

# ---------------- plotting ----------------
AX_COL = '#262626'
TICK_TXT = '#333333'
GRAY = '#cccccc'

fig = plt.figure(figsize=(7.43, 7.44), dpi=100)
ax1 = fig.add_axes([0.1386, 0.5878, 0.8426, 0.3575])
ax2 = fig.add_axes([0.1386, 0.0927, 0.8426, 0.3571])


def style(ax):
    for s in ax.spines.values():
        s.set_color(AX_COL)
        s.set_linewidth(0.8)
    ax.tick_params(direction='in', top=True, right=True, length=5, width=0.8,
                   color=AX_COL, labelcolor=TICK_TXT, labelsize=16, pad=7)
    ax.set_xlim(0, 20)
    ax.xaxis.set_major_locator(FixedLocator(x_ticks))
    ax.set_xticklabels([str(t) for t in x_ticks])


for tr in top_traces:
    ax1.plot(freq, np.array(tr) * 1e-7, color=GRAY, lw=1.1, zorder=1)
ax1.plot(freq, np.array(top_mean) * 1e-5, color='black', lw=1.8, zorder=3)
style(ax1)
ax1.set_ylim(0, 1e-5)
ax1.yaxis.set_major_locator(FixedLocator(top_yticks))
ax1.set_yticklabels(top_yticklabels)
ax1.set_title('FFT of first derivatives of Stim Env', fontsize=15.5, fontweight='bold', pad=11.5)
ax1.set_ylabel('IP(f_Hz)I', fontsize=17, fontweight='bold')
ax1.yaxis.set_label_coords(-0.10, 0.5)
fig.text(0.1400, 0.9624, '\u00d710', fontsize=15, color=TICK_TXT, ha='left', va='baseline')
fig.text(0.1900, 0.9790, '-5', fontsize=11, color=TICK_TXT, ha='left', va='baseline')

for tr in bottom_traces:
    ax2.plot(freq, np.array(tr) * 1e-4, color=GRAY, lw=1.1, zorder=1)
ax2.plot(freq, np.array(bottom_mean), color='black', lw=1.8, zorder=3)
style(ax2)
ax2.set_ylim(0, 0.015)
ax2.yaxis.set_major_locator(FixedLocator(bottom_yticks))
ax2.set_yticklabels(bottom_yticklabels)
ax2.set_title('FFT of Stim Env', fontsize=15.5, fontweight='bold', pad=12)
ax2.set_ylabel('IP(f_Hz)I', fontsize=17, fontweight='bold')
ax2.yaxis.set_label_coords(-0.10, 0.5)
ax2.set_xlabel('Frequency(f_Hz)', fontsize=17, fontweight='bold')
ax2.xaxis.set_label_coords(0.5, -0.125)

fig.savefig('out.png', dpi=100)
